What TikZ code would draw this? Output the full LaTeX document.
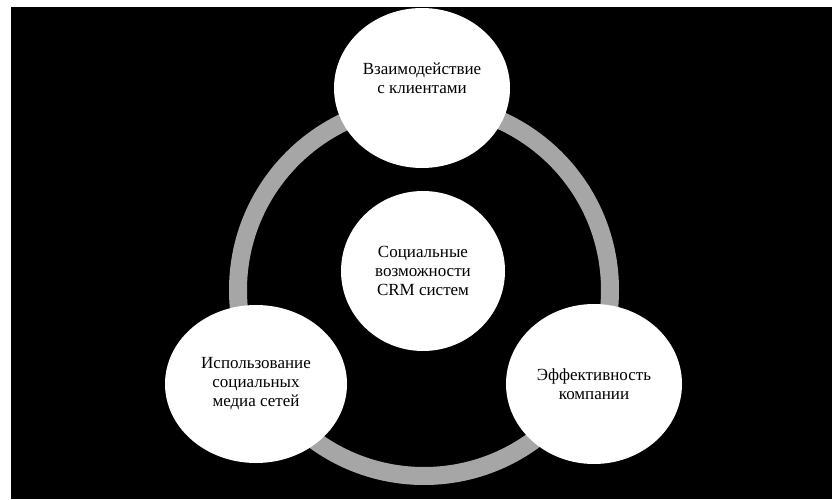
\documentclass[tikz,border=0pt]{standalone}
\usepackage{fontspec}
\setmainfont{Liberation Serif}
\usetikzlibrary{shapes.geometric}
\definecolor{ringgray}{HTML}{A6A6A6}
\begin{document}
\begin{tikzpicture}[x=1pt,y=1pt,
  bubble/.style={ellipse, fill=white, draw=none, minimum width=176pt, minimum height=160pt, inner sep=0pt, align=center, font=\fontsize{17}{19}\selectfont},
  txt/.style={align=center, inner sep=0pt, font=\fontsize{17}{19}\selectfont}]
\useasboundingbox (0,0) rectangle (833,499);
\fill[white] (0,0) rectangle (833,499);
\fill[black] (11,0) rectangle (832,492);
\coordinate (ringc) at (424,209);
\draw[line width=18pt, ringgray] (ringc) circle (186pt);
\node[bubble, minimum width=164pt] (center) at (423,228) {Социальные\\возможности\\CRM систем};
\node[bubble] (top) at (422,411) {};
\node[txt] (toptext) at (422,421) {Взаимодействие\\с клиентами};
\node[bubble, minimum width=182pt, minimum height=158pt] (left) at (256,115) {Использование\\социальных\\медиа сетей};
\node[bubble] (right) at (594,115) {Эффективность\\компании};
\end{tikzpicture}
\end{document}
